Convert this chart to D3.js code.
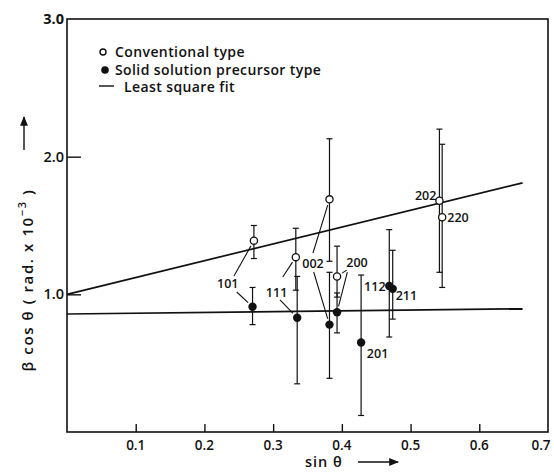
<!DOCTYPE html>
<html>
<head>
<meta charset="utf-8">
<script src="https://cdn.jsdelivr.net/npm/d3@7"></script>
<style>
  body { margin: 0; background: #fff; }
  text { font-family: "Open Sans", "DejaVu Sans", sans-serif; fill: #111; font-weight: 600; }
</style>
</head>
<body>
<svg width="554" height="473"></svg>
<script>
// conventional type (open circles)
var convHkl = ["101", "111", "002", "200", "202", "220"];
var convX   = [0.272, 0.333, 0.382, 0.393, 0.542, 0.546];
var convY   = [1.39, 1.27, 1.69, 1.13, 1.68, 1.56];
var convLo  = [1.26, 1.03, 1.24, 0.98, 1.16, 1.05];
var convHi  = [1.50, 1.48, 2.13, 1.35, 2.20, 2.09];

// solid solution precursor type (filled circles)
var solidHkl = ["101", "111", "002", "200", "201", "112", "211"];
var solidX   = [0.270, 0.335, 0.382, 0.393, 0.428, 0.469, 0.474];
var solidY   = [0.91, 0.83, 0.78, 0.87, 0.65, 1.06, 1.04];
var solidLo  = [0.78, 0.35, 0.39, 0.72, 0.12, 0.69, 0.82];
var solidHi  = [1.05, 1.13, 1.16, 1.01, 1.14, 1.47, 1.32];

// least square fits
var fitX      = [0, 0.663];
var convFitY  = [1.0, 1.81];
var solidFitY = [0.857, 0.895];

var xTicks = [0.1, 0.2, 0.3, 0.4, 0.5, 0.6, 0.7];
var yTicks = [1.0, 2.0, 3.0];

var legendItems = ["Conventional type", "Solid solution precursor type", "Least square fit"];

var svg = d3.select("svg"),
    mLeft = 67, mRight = 548, mTop = 19, mBottom = 432;

var x = d3.scaleLinear().domain([0, 0.7]).range([mLeft, mRight]);
var y = d3.scaleLinear().domain([0, 3.0]).range([mBottom, mTop]);

var conv = convHkl.map(function (h, i) {
    return { hkl: h, x: convX[i], y: convY[i], lo: convLo[i], hi: convHi[i] };
});
var solid = solidHkl.map(function (h, i) {
    return { hkl: h, x: solidX[i], y: solidY[i], lo: solidLo[i], hi: solidHi[i] };
});

// frame
svg.append("rect")
    .attr("x", mLeft).attr("y", mTop)
    .attr("width", mRight - mLeft).attr("height", mBottom - mTop)
    .attr("fill", "none").attr("stroke", "#111").attr("stroke-width", 1.6);

// ticks point inwards
svg.append("g")
    .attr("transform", "translate(0," + mBottom + ")")
    .call(d3.axisTop(x).tickValues(xTicks.slice(0, 6)).tickSize(8).tickFormat(""))
    .call(function (g) { g.select(".domain").remove(); })
    .selectAll("line").attr("stroke", "#111").attr("stroke-width", 1.4);

svg.append("g")
    .attr("transform", "translate(" + mLeft + ",0)")
    .call(d3.axisRight(y).tickValues(yTicks.slice(0, 2)).tickSize(14).tickFormat(""))
    .call(function (g) { g.select(".domain").remove(); })
    .selectAll("line").attr("stroke", "#111").attr("stroke-width", 1.4);

svg.selectAll(".xlab")
    .data(xTicks)
  .enter().append("text")
    .attr("x", function (d) { return Math.min(x(d), 541); })
    .attr("y", mBottom + 18)
    .attr("text-anchor", "middle")
    .style("font-size", "13.5px")
    .text(function (d) { return d.toFixed(1); });

svg.selectAll(".ylab")
    .data(yTicks)
  .enter().append("text")
    .attr("x", mLeft - 3)
    .attr("y", function (d) { return y(d) + 5; })
    .attr("text-anchor", "end")
    .style("font-size", "14.5px")
    .style("font-weight", function (d) { return d == 3 ? "bold" : null; })
    .text(function (d) { return d.toFixed(1); });

// axis titles
svg.append("text")
    .attr("x", 305).attr("y", 467)
    .style("font-size", "14.5px")
    .style("letter-spacing", "1px")
    .text("sin θ");

var defs = svg.append("defs");
defs.append("marker")
    .attr("id", "arr").attr("viewBox", "0 0 10 10")
    .attr("refX", 9).attr("refY", 5)
    .attr("markerWidth", 7).attr("markerHeight", 7)
    .attr("orient", "auto")
  .append("path").attr("d", "M0,1L10,5L0,9z").attr("fill", "#111");

svg.append("line")
    .attr("x1", 358).attr("x2", 398).attr("y1", 462).attr("y2", 462)
    .attr("stroke", "#111").attr("stroke-width", 1.4)
    .attr("marker-end", "url(#arr)");

var yt = svg.append("text")
    .attr("transform", "translate(33,280)rotate(-90)")
    .attr("text-anchor", "middle")
    .style("font-size", "15px")
    .style("letter-spacing", "1.6px");
yt.append("tspan").text("β cos θ ( rad. x 10");
yt.append("tspan").attr("dy", -7).style("font-size", "11px").text("−3");
yt.append("tspan").attr("dy", 7).text(" )");

svg.append("line")
    .attr("x1", 24).attr("x2", 24).attr("y1", 150).attr("y2", 117)
    .attr("stroke", "#111").attr("stroke-width", 1.4)
    .attr("marker-end", "url(#arr)");

// fit lines
var line = d3.line()
    .x(function (d) { return x(d[0]); })
    .y(function (d) { return y(d[1]); });

[convFitY, solidFitY].forEach(function (fy) {
    svg.append("path")
        .attr("d", line(d3.zip(fitX, fy)))
        .attr("fill", "none").attr("stroke", "#111").attr("stroke-width", 1.7);
});

// error bars
function errorBars(data) {
    var g = svg.append("g").attr("stroke", "#111").attr("stroke-width", 1.2);
    data.forEach(function (d) {
        g.append("line")
            .attr("x1", x(d.x)).attr("x2", x(d.x))
            .attr("y1", y(d.lo)).attr("y2", y(d.hi));
        [d.lo, d.hi].forEach(function (v) {
            g.append("line")
                .attr("x1", x(d.x) - 3).attr("x2", x(d.x) + 3)
                .attr("y1", y(v)).attr("y2", y(v));
        });
    });
}
errorBars(conv);
errorBars(solid);

svg.selectAll(".conv")
    .data(conv)
  .enter().append("circle")
    .attr("cx", function (d) { return x(d.x); })
    .attr("cy", function (d) { return y(d.y); })
    .attr("r", 3.6)
    .attr("fill", "#fff").attr("stroke", "#111").attr("stroke-width", 1.3);

svg.selectAll(".solid")
    .data(solid)
  .enter().append("circle")
    .attr("cx", function (d) { return x(d.x); })
    .attr("cy", function (d) { return y(d.y); })
    .attr("r", 4.2)
    .attr("fill", "#111");

// hkl labels, placed in data units
var labelAt = {
    "101": [0.234, 1.08], "111": [0.305, 1.015], "002": [0.358, 1.225],
    "200": [0.422, 1.233], "112": [0.448, 1.058], "211": [0.494, 0.998],
    "201": [0.452, 0.572], "202": [0.522, 1.72], "220": [0.569, 1.56]
};
Object.keys(labelAt).forEach(function (k) {
    svg.append("text")
        .attr("x", x(labelAt[k][0]))
        .attr("y", y(labelAt[k][1]) + 5)
        .attr("text-anchor", "middle")
        .style("font-size", "12.5px")
        .text(k);
});

// leader lines from label to both points of the same hkl
var leaders = [
    ["101", conv, [0.243, 1.133]], ["101", solid, [0.247, 1.017]],
    ["111", conv, [0.314, 1.126]], ["111", solid, [0.310, 0.959]],
    ["002", conv, [0.358, 1.300]], ["002", solid, [0.359, 1.162]],
    ["200", conv, [0.407, 1.176]], ["200", solid, [0.408, 1.162]]
];
leaders.forEach(function (l) {
    var p = l[1].find(function (d) { return d.hkl == l[0]; });
    var x0 = x(l[2][0]), y0 = y(l[2][1]), x1 = x(p.x), y1 = y(p.y);
    var len = Math.hypot(x1 - x0, y1 - y0), s = (len - 6) / len;
    svg.append("line")
        .attr("x1", x0).attr("y1", y0)
        .attr("x2", x0 + (x1 - x0) * s).attr("y2", y0 + (y1 - y0) * s)
        .attr("stroke", "#111").attr("stroke-width", 1.1);
});

// legend
var lg = svg.append("g");
lg.append("circle").attr("cx", 103).attr("cy", 52).attr("r", 3)
    .attr("fill", "#fff").attr("stroke", "#111").attr("stroke-width", 1.4);
lg.append("circle").attr("cx", 105).attr("cy", 70).attr("r", 3.8).attr("fill", "#111");
lg.append("line").attr("x1", 99).attr("x2", 114).attr("y1", 86).attr("y2", 86)
    .attr("stroke", "#111").attr("stroke-width", 1.4);
lg.selectAll(".lt")
    .data(legendItems)
  .enter().append("text")
    .attr("x", function (d, i) { return i == 2 ? 124 : 115; })
    .attr("y", function (d, i) { return 57 + i * 17.5; })
    .style("font-size", "14px")
    .style("letter-spacing", "0.4px")
    .text(function (d) { return d; });
</script>
</body>
</html>
